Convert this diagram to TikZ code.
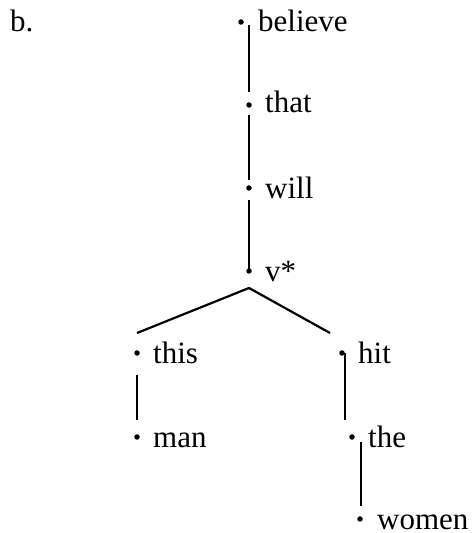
\documentclass[tikz,border=0pt]{standalone}
\usepackage{fontspec}
\setmainfont{Liberation Serif}
\usetikzlibrary{positioning}

\begin{document}
\begin{tikzpicture}[
    x=1pt, y=1pt,
    dot/.style={circle, fill, inner sep=0pt, minimum size=5.5pt},
    word/.style={anchor=base west, inner sep=0pt, font=\fontsize{31}{37}\selectfont},
    edge/.style={line width=2.2pt}
]
\useasboundingbox (0,0) rectangle (472,533);
\node[word] (lbl) at (10,501) {b.};
% spine
\node[dot] (bel) at (241,511) {};
\node[word] (belw) at (258,501) {believe};
\node[dot] (that) at (249,428) {};
\node[word] (thatw) at (265,420) {that};
\node[dot] (will) at (249,345) {};
\node[word] (willw) at (265,334) {will};
\node[dot] (vst) at (249,262) {};
\node[word] (vstw) at (265,251) {v*};
\coordinate (top) at (249,245);
% left branch
\node[dot] (this) at (137,180) {};
\node[word] (thisw) at (153,169) {this};
\node[dot] (man) at (137,96) {};
\node[word] (manw) at (153,85) {man};
% right branch
\node[dot] (hit) at (342,180) {};
\node[word] (hitw) at (358,169) {hit};
\node[dot] (the) at (352,96) {};
\node[word] (thew) at (368,85) {the};
\node[dot] (wom) at (360,14) {};
\node[word] (womw) at (377,4) {women};
\coordinate (hitr) at ([xshift=3pt]hit.center);
\coordinate (ther) at ([xshift=9pt]the.center);

\draw[edge, shorten <=3pt, shorten >=13pt] (that |- bel) -- (that.center);
\draw[edge, shorten <=10pt, shorten >=8pt] (that.center) -- (will.center);
\draw[edge, shorten <=12pt, shorten >=2pt] (will.center) -- (vst.center);
\draw[edge] ([yshift=20pt]this.center) -- (top) -- ([shift={(-12,20)}]hit.center);
\draw[edge, shorten <=22pt, shorten >=17pt] (this.center) -- (man.center);
\draw[edge, shorten >=17pt] (hitr) -- (hitr |- the);
\draw[edge, shorten <=5pt, shorten >=13pt] (ther) -- (ther |- wom);
\end{tikzpicture}
\end{document}
